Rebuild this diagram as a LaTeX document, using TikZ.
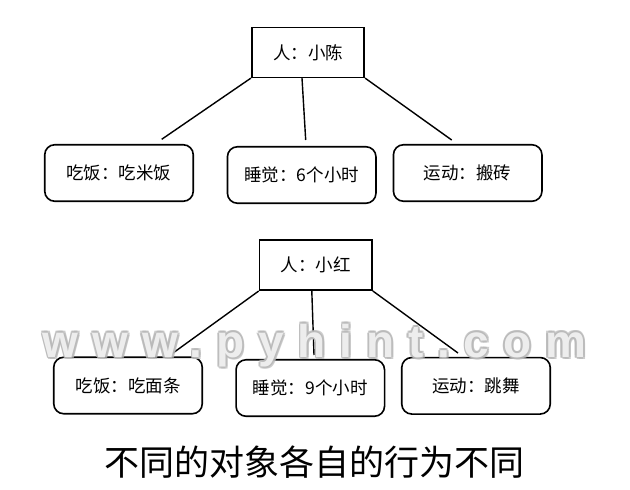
\documentclass[tikz,border=0pt]{standalone}
\usepackage{fontspec}
\setmainfont{Noto Sans CJK SC}
\newfontfamily\wmfont[LetterSpace=30]{Liberation Sans Bold}
\usetikzlibrary{calc}
\begin{document}
\begin{tikzpicture}[x=1pt,y=-1pt,
  boxfont/.style={font=\fontsize{17.5}{20}\selectfont},
  rootbox/.style={draw, line width=1.6pt, minimum width=112.5pt, minimum height=50pt, inner sep=0pt, boxfont},
  leafbox/.style={draw, line width=1.6pt, rounded corners=10pt, minimum width=148.5pt, minimum height=56.5pt, inner sep=0pt, boxfont},
  link/.style={line width=1.4pt},
  wmstyle/.style={anchor=base, inner sep=0pt, font=\wmfont\fontsize{46}{50}\selectfont}]
\useasboundingbox (0,0) rectangle (630,490);
\fill[white] (0,0) rectangle (630,490);

% top tree
\node[rootbox] (r1) at (308,52.3) {人：小陈};
\node[leafbox] (a1) at (119,173) {吃饭：吃米饭};
\node[leafbox] (a2) at (301.7,175) {睡觉：6个小时};
\node[leafbox] (a3) at (467.7,173) {运动：搬砖};
\coordinate (a1e) at (161.7,139.3);
\coordinate (a2e) at (305.7,140);
\coordinate (a3e) at (451.7,140);
\draw[link] (r1.south west) -- (a1e);
\draw[link] ($(r1.south)+(-6,0)$) -- (a2e);
\draw[link] (r1.south east) -- (a3e);

% bottom tree
\node[rootbox] (r2) at (315.8,265.2) {人：小红};
\node[leafbox] (b1) at (128,385.5) {吃饭：吃面条};
\node[leafbox] (b2) at (310.3,388) {睡觉：9个小时};
\node[leafbox] (b3) at (476,385.8) {运动：跳舞};
\coordinate (b1e) at (173,353);
\coordinate (b2e) at (314,355);
\coordinate (b3e) at (458,353);
\draw[link] (r2.south west) -- (b1e);
\draw[link] ($(r2.south)+(-4,0)$) -- (b2e);
\draw[link] (r2.south east) -- (b3e);

% caption
\node[font=\fontsize{35}{40}\selectfont, inner sep=0pt] (cap) at (314.5,462) {不同的对象各自的行为不同};

% watermark
\coordinate (wmpos) at (314.5,357);
\foreach \dx/\dy in {2/0,-1.6/0,0/2,0/-1.6,2/2,-1.3/1.3,1.3/-1.3,-1.2/-1.2}
  \node[wmstyle, text=gray!55, opacity=0.7] at ($(wmpos)+(\dx,\dy)$) {www.pyhint.com};
\node[wmstyle, text=gray!12, opacity=0.95] (wm) at (wmpos) {www.pyhint.com};
\end{tikzpicture}
\end{document}
